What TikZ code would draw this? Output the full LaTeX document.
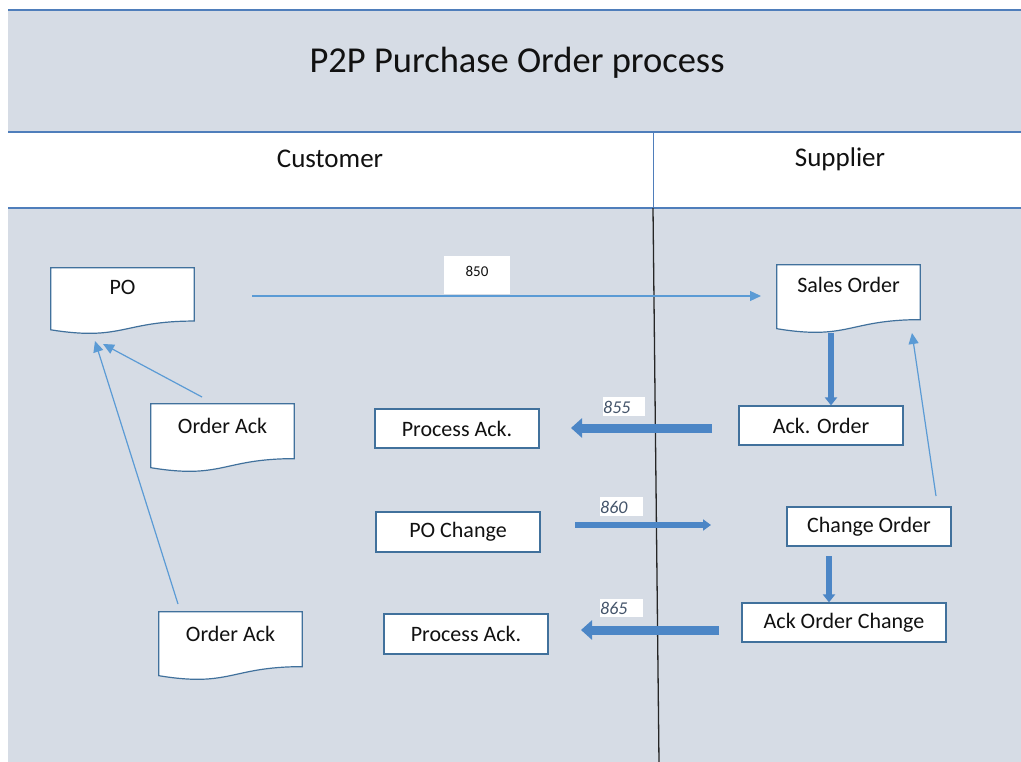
\documentclass[tikz,border=0pt]{standalone}
\usepackage{fontspec}
\setmainfont{Carlito}
\usetikzlibrary{arrows.meta,calc}
\definecolor{bgfill}{HTML}{D6DCE5}
\definecolor{bandline}{HTML}{4F7EBB}
\definecolor{boxline}{HTML}{41719C}
\definecolor{thinarrow}{HTML}{5B9BD5}
\definecolor{thickarrow}{HTML}{4C86C6}
\definecolor{labtext}{HTML}{44546A}
\definecolor{txt}{HTML}{111111}
\tikzset{
  boxnode/.style={rectangle, draw=boxline, line width=1.2pt, fill=white, minimum height=39pt, text=txt, font=\fontsize{22}{26}\selectfont, inner sep=0pt},
  docbox/.style={rectangle, draw=none, inner sep=0pt},
  docline/.style={draw=boxline, line width=1.2pt, fill=white},
  doctext/.style={text=txt, font=\fontsize{22}{26}\selectfont, inner sep=0pt},
  labbox/.style={rectangle, fill=white, draw=none, inner sep=0pt},
  labtxt/.style={text=labtext, font=\fontsize{18}{20}\selectfont\itshape, inner sep=0pt, anchor=west},
  bandrule/.style={draw=bandline, line width=1.4pt},
  thinarr/.style={draw=thinarrow, line width=1.2pt, -{Triangle[length=11pt,width=10pt]}},
  thickarr/.style={draw=thickarrow, line width=9pt, -{Triangle[length=11pt,width=19pt]}},
  midarr/.style={draw=thickarrow, line width=5.5pt, -{Triangle[length=8pt,width=11pt]}},
  vertarr/.style={draw=thickarrow, line width=6pt, -{Triangle[length=8pt,width=12pt]}},
}
\newcommand\docshape[1]{%
  \draw[docline] let \p1=(#1.north west), \p2=(#1.south east) in
  (\x1,\y1) -- (\x2,\y1) -- (\x2,{\y1+0.802*(\y2-\y1)})
  .. controls ({0.5*(\x1+\x2)},{\y1+0.802*(\y2-\y1)}) and ({0.5*(\x1+\x2)},{\y1+1.107*(\y2-\y1)}) ..
  (\x1,{\y1+0.934*(\y2-\y1)}) -- cycle;}
\begin{document}
\begin{tikzpicture}[x=1pt,y=-1pt]
\useasboundingbox (0,0) rectangle (1021,762);
\fill[white] (0,0) rectangle (1021,762);
% bands
\fill[bgfill] (8,10) rectangle (1021,132);
\fill[white] (8,132) rectangle (1021,208);
\fill[bgfill] (8,208) rectangle (1021,762);
\draw[bandrule] (8,10) -- (1021,10);
\draw[bandrule] (8,132) -- (1021,132);
\draw[bandrule] (8,208) -- (1021,208);
\draw[bandline, line width=1pt] (653,132) -- (653,208);
\draw[black!85, line width=1.3pt] (653,208) -- (659,762);
% titles
\node[text=txt, font=\fontsize{36.5}{40}\selectfont] (title) at (517,63) {P2P Purchase Order process};
\node[text=txt, font=\fontsize{27}{30}\selectfont] (cust) at (330,159) {Customer};
\node[text=txt, font=\fontsize{27}{30}\selectfont] (supp) at (840,159) {Supplier};
% documents
\node[docbox, minimum width=143pt, minimum height=66pt] (po) at (122.5,301) {};
\docshape{po}
\node[doctext] (potx) at ([yshift=-20pt]po.north) {PO};
\node[docbox, minimum width=143pt, minimum height=68pt] (oa1) at (222.5,438) {};
\docshape{oa1}
\node[doctext] (oa1tx) at ([yshift=-22pt]oa1.north) {Order Ack};
\node[docbox, minimum width=143pt, minimum height=68pt] (oa2) at (230.5,646) {};
\docshape{oa2}
\node[doctext] (oa2tx) at ([yshift=-22pt]oa2.north) {Order Ack};
\node[docbox, minimum width=143pt, minimum height=68pt] (so) at (848.5,299) {};
\docshape{so}
\node[doctext] (sotx) at ([yshift=-20pt]so.north) {Sales Order};
% boxes
\node[boxnode, minimum width=164pt] (pa1) at (457,428.5) {Process Ack.};
\node[boxnode, minimum width=164pt] (ackord) at (821,425.5) {Ack. Order};
\node[boxnode, minimum width=164pt, minimum height=40pt] (pochg) at (458,532) {PO Change};
\node[boxnode, minimum width=164pt] (chgord) at (869,526.5) {Change Order};
\node[boxnode, minimum width=164pt, minimum height=40pt] (pa2) at (466,634) {Process Ack.};
\node[boxnode, minimum width=204pt] (aoc) at (844,622.5) {Ack Order Change};
% labels
\node[labbox, minimum width=66pt, minimum height=38pt] (l850) at (477,275) {};
\node[text=txt, font=\fontsize{15}{17}\selectfont, inner sep=0pt] (l850tx) at (477,271) {850};
\node[labbox, minimum width=42pt, minimum height=19pt] (l855) at (624,406.5) {};
\node[labtxt] (l855tx) at (603,407) {855};
\node[labbox, minimum width=43pt, minimum height=19pt] (l860) at (621.5,506.5) {};
\node[labtxt] (l860tx) at (600,507) {860};
\node[labbox, minimum width=43pt, minimum height=18pt] (l865) at (621.5,608) {};
\node[labtxt] (l865tx) at (600,608) {865};
% connector end points
\coordinate (c850s) at (252,296);
\coordinate (c850e) at (761,296);
\coordinate (coa1s) at (202,397);
\coordinate (coa1e) at (103,344);
\coordinate (coa2s) at (178,604);
\coordinate (coa2e) at (95,341);
\coordinate (ccos) at (936,496);
\coordinate (ccoe) at (912,333);
\coordinate (c855s) at (712,428);
\coordinate (c855e) at (571,428);
\coordinate (c860s) at (575,525);
\coordinate (c860e) at (711,525);
\coordinate (c865s) at (719,630);
\coordinate (c865e) at (581,630);
% thin arrows
\draw[thinarr] (c850s) -- (c850e);
\draw[thinarr] (coa1s) -- (coa1e);
\draw[thinarr] (coa2s) -- (coa2e);
\draw[thinarr] (ccos) -- (ccoe);
% thick arrows
\draw[vertarr] (831,333) -- (ackord.north -| 831,0);
\draw[vertarr] (829,556) -- (aoc.north -| 829,0);
\draw[thickarr] (c855s) -- (c855e);
\draw[midarr] (c860s) -- (c860e);
\draw[thickarr] (c865s) -- (c865e);
\end{tikzpicture}
\end{document}
